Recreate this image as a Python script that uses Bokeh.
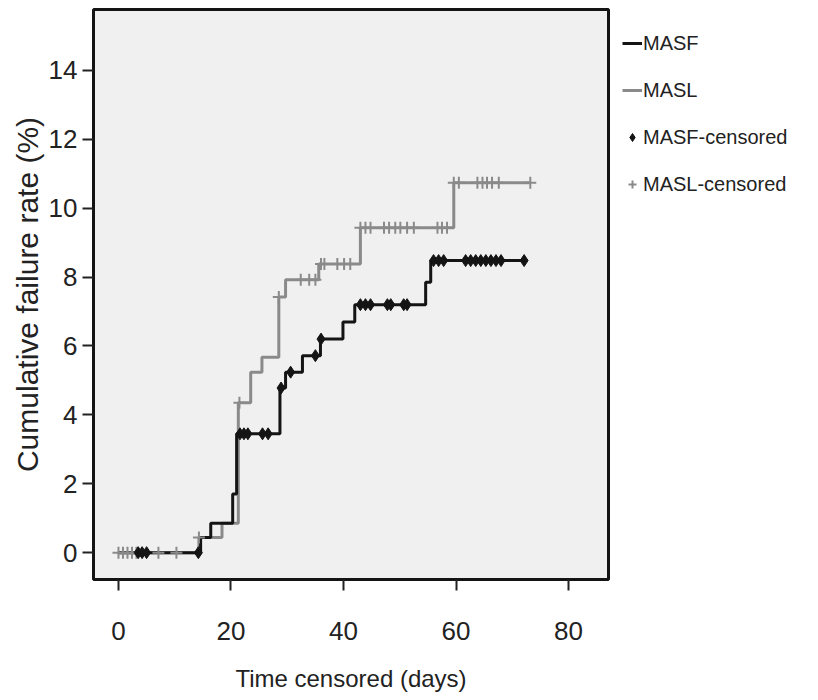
from bokeh.plotting import figure
from bokeh.models import Range1d, FixedTicker, Legend, LegendItem
from bokeh.embed import file_html
from bokeh.resources import INLINE

# ---- data ----
x_ticks = [0, 20, 40, 60, 80]
y_ticks = [0, 2, 4, 6, 8, 10, 12, 14]

masf_t = [0, 14.6, 16.4, 20.3, 21.0, 28.7, 29.7, 32.7, 35.9, 39.9, 42.0, 54.6, 55.5, 72.1]
masf_v = [0, 0.44, 0.85, 1.70, 3.45, 4.78, 5.24, 5.72, 6.20, 6.70, 7.20, 7.85, 8.48, 8.48]

masl_t = [0, 14.3, 18.4, 21.3, 23.5, 25.5, 28.5, 29.7, 35.6, 43.0, 59.6, 73.2]
masl_v = [0, 0.44, 0.85, 4.35, 5.24, 5.67, 7.42, 7.92, 8.38, 9.43, 10.74, 10.74]

masf_cens_t = [3.5, 4.2, 5.0, 14.2,
               21.6, 22.3, 23.0, 25.6, 26.6,
               28.9, 30.6, 35.0, 36.0,
               43.0, 43.9, 44.8, 47.8, 48.4, 50.7, 51.3,
               56.0, 56.9, 57.8, 61.7, 62.6, 63.5, 64.4, 65.3, 66.2, 67.1, 68.0, 72.1]
masf_cens_v = [0, 0, 0, 0,
               3.45, 3.45, 3.45, 3.45, 3.45,
               4.78, 5.24, 5.72, 6.20,
               7.20, 7.20, 7.20, 7.20, 7.20, 7.20, 7.20,
               8.48, 8.48, 8.48, 8.48, 8.48, 8.48, 8.48, 8.48, 8.48, 8.48, 8.48, 8.48]

masl_cens_t = [0, 0.8, 1.6, 2.4, 3.2, 7.1, 10.3,
               14.3, 21.5, 28.5,
               32.4, 33.9, 35.0,
               36.0, 36.6, 38.9, 40.1, 41.2,
               43.0, 43.9, 44.8, 47.2, 48.1, 49.2, 50.1, 51.3, 52.5, 56.7, 57.5, 58.4,
               59.6, 60.5, 63.8, 64.7, 65.5, 66.4, 67.6, 73.2]
masl_cens_v = [0, 0, 0, 0, 0, 0, 0,
               0.44, 4.35, 7.42,
               7.92, 7.92, 7.92,
               8.38, 8.38, 8.38, 8.38, 8.38,
               9.43, 9.43, 9.43, 9.43, 9.43, 9.43, 9.43, 9.43, 9.43, 9.43, 9.43, 9.43,
               10.74, 10.74, 10.74, 10.74, 10.74, 10.74, 10.74, 10.74]

FONT = "Liberation Sans"
BLACK = "#141414"
GREY = "#8a8a8a"
TEXT = "#222222"

p = figure(frame_width=515, frame_height=570, output_backend="svg", toolbar_location=None,
           x_range=Range1d(-4.44, 87.1), y_range=Range1d(-0.78, 15.77),
           min_border_left=93, min_border_right=205, min_border_top=9, min_border_bottom=121)

p.background_fill_color = "#f0f0f0"
p.border_fill_color = "white"
p.outline_line_color = BLACK
p.outline_line_width = 3
p.grid.visible = False

p.xaxis.ticker = FixedTicker(ticks=x_ticks)
p.yaxis.ticker = FixedTicker(ticks=y_ticks)
for ax in (p.xaxis, p.yaxis):
    ax.axis_line_color = None
    ax.major_tick_in = 0
    ax.major_tick_out = 11
    ax.major_tick_line_width = 2
    ax.major_tick_line_color = TEXT
    ax.minor_tick_line_color = None
    ax.major_label_text_font = FONT
    ax.major_label_text_font_size = "26px"
    ax.major_label_text_color = TEXT
    ax.axis_label_text_font = FONT
    ax.axis_label_text_font_style = "normal"
    ax.axis_label_text_color = TEXT

p.xaxis.axis_label = "Time censored (days)"
p.xaxis.axis_label_text_font_size = "24px"
p.xaxis.major_label_standoff = 31
p.xaxis.axis_label_standoff = 22

p.yaxis.axis_label = "Cumulative failure rate (%)"
p.yaxis.axis_label_text_font_size = "30px"
p.yaxis.major_label_standoff = 5
p.yaxis.axis_label_standoff = 2

r_masl = p.step(masl_t, masl_v, mode="after", line_color=GREY, line_width=3)
r_masf = p.step(masf_t, masf_v, mode="after", line_color=BLACK, line_width=3)
r_masl_c = p.scatter(masl_cens_t, masl_cens_v, marker="cross", size=12,
                     line_color=GREY, line_width=2)
r_masf_c = p.scatter(masf_cens_t, masf_cens_v, marker="diamond", size=12,
                     fill_color=BLACK, line_color=BLACK)

legend = Legend(items=[
    LegendItem(label="MASF", renderers=[r_masf]),
    LegendItem(label="MASL", renderers=[r_masl]),
    LegendItem(label="MASF-censored", renderers=[r_masf_c]),
    LegendItem(label="MASL-censored", renderers=[r_masl_c]),
], location="top_left")
legend.margin = 14
legend.padding = 9
legend.spacing = 7
legend.glyph_width = 20
legend.glyph_height = 40
legend.label_height = 40
legend.label_standoff = 1
legend.label_text_font = FONT
legend.label_text_font_size = "20px"
legend.label_text_color = TEXT
legend.border_line_color = None
legend.background_fill_alpha = 0
p.add_layout(legend, "right")

open("out.html", "w").write(file_html(p, INLINE))
